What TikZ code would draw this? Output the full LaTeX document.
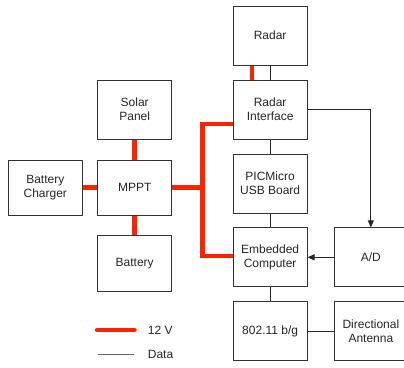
\documentclass[tikz,border=0pt]{standalone}
\usepackage{fontspec}
\setmainfont{Liberation Sans}
\usetikzlibrary{arrows.meta}
\definecolor{pwr}{HTML}{FF2200}
\definecolor{edge}{HTML}{333333}
\begin{document}
\begin{tikzpicture}[x=1pt,y=-1pt,
  blk/.style={draw=edge,line width=1pt,minimum width=73.7pt,minimum height=59pt,inner sep=0pt,align=center,font=\fontsize{12}{14}\selectfont,text=black!85},
  power/.style={draw=pwr,line width=4.5pt},
  data/.style={draw=black!85,line width=0.9pt},
  arr/.style={-{Triangle[length=7pt,width=6pt]}}]
\useasboundingbox (0,0) rectangle (404,367);
\node[blk] (radar) at (270.15,35.7) {Radar};
\node[blk] (ri) at (270.15,109.7) {Radar\\Interface};
\node[blk] (pic) at (270.15,183.5) {PICMicro\\USB Board};
\node[blk] (emb) at (270.15,257.3) {Embedded\\Computer};
\node[blk] (wifi) at (270.15,331.2) {802.11 b/g};
\node[blk] (ant) at (370.85,331.2) {Directional\\Antenna};
\node[blk] (ad) at (370.85,257.3) {A/D};
\node[blk] (solar) at (134.7,109.7) {Solar\\Panel};
\node[blk,minimum height=55pt] (mppt) at (134.7,187.5) {MPPT};
\node[blk,minimum height=55.6pt] (bat) at (134.7,263.5) {Battery};
\node[blk,minimum height=55pt] (bc) at (45.3,187.5) {Battery\\Charger};
% 12 V
\coordinate (rr) at (252,0);
\draw[power] (radar.south -| rr) -- (ri.north -| rr);
\coordinate (bus) at (202.5,124);
\coordinate (busb) at (202.5,256);
\draw[power] (ri.west |- bus) -- (bus) -- (busb) -- (emb.west |- busb);
\draw[power] (mppt.east) -- (mppt.east -| bus);
\draw[power] (solar.south) -- (mppt.north);
\draw[power] (mppt.south) -- (bat.north);
\draw[power] (bc.east) -- (mppt.west);
% data
\draw[data] (radar.south) -- (ri.north);
\draw[data] (ri.south) -- (pic.north);
\draw[data] (pic.south) -- (emb.north);
\draw[data] (emb.south) -- (wifi.north);
\draw[data] (wifi.east) -- (ant.west);
\draw[data,arr] (ri.east) -- (ri.east -| ad.north) -- (ad.north);
\draw[data,arr] (ad.west) -- (emb.east);
% legend
\coordinate (l1a) at (97,330);
\coordinate (l1b) at (134.5,330);
\coordinate (l2a) at (97.7,354);
\coordinate (l2b) at (134,354);
\draw[power,line cap=round] (l1a) -- (l1b);
\draw[draw=black!60,line width=1pt] (l2a) -- (l2b);
\node[anchor=west,inner sep=0pt,font=\fontsize{12}{14}\selectfont,text=black!85] (t1) at (147.7,330) {12 V};
\node[anchor=west,inner sep=0pt,font=\fontsize{12}{14}\selectfont,text=black!85] (t2) at (147.7,354) {Data};
\end{tikzpicture}
\end{document}
